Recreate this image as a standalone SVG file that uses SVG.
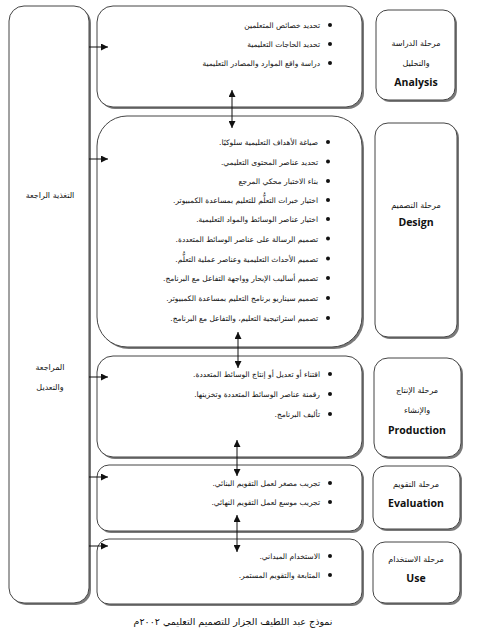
<svg xmlns="http://www.w3.org/2000/svg" width="487" height="640" viewBox="0 0 487 640">
<style>
.box{fill:#fff;stroke:#444;stroke-width:1}
.sh{fill:#7a7a7a;stroke:none}
.ar{font-family:"DejaVu Sans",sans-serif;font-size:7.5px;fill:#111;direction:rtl;text-anchor:start}
.arc{font-family:"DejaVu Sans",sans-serif;font-size:8px;fill:#111;text-anchor:middle}
.en{font-family:"Open Sans","Liberation Sans",sans-serif;font-size:10.5px;font-weight:bold;fill:#111;text-anchor:middle}
.bul{fill:#111}
.con{stroke:#111;stroke-width:1;fill:none}
</style>
<defs>
<marker id="ah" viewBox="0 0 10 10" refX="10" refY="5" markerWidth="7" markerHeight="7" orient="auto-start-reverse" markerUnits="userSpaceOnUse">
<path d="M0,0 L10,5 L0,10 z" fill="#111"/>
</marker>
</defs>
<rect width="487" height="640" fill="#fff"/>

<g id="feedback">
<rect class="sh" x="11" y="8" width="80" height="597" rx="15"/>
<rect class="box" x="9" y="6" width="80" height="597" rx="15"/>
<text class="arc" x="50" y="198">التغذية الراجعة</text>
<text class="arc" x="50" y="370">المراجعة</text>
<text class="arc" x="50" y="390">والتعديل</text>
</g>

<g id="analysis-content">
<rect class="sh" x="99" y="8" width="265" height="101" rx="16"/>
<rect class="box" x="97" y="6" width="265" height="101" rx="16"/>
<circle class="bul" cx="330" cy="25" r="2"/>
<circle class="bul" cx="330" cy="44" r="2"/>
<circle class="bul" cx="330" cy="63" r="2"/>
<text class="ar" x="320" y="28">تحديد خصائص المتعلمين</text>
<text class="ar" x="320" y="47">تحديد الحاجات التعليمية</text>
<text class="ar" x="320" y="66">دراسة واقع الموارد والمصادر التعليمية</text>
</g>
<g id="analysis-label">
<rect class="sh" x="378" y="12" width="79" height="90" rx="12"/>
<rect class="box" x="376" y="10" width="79" height="90" rx="12"/>
<text class="arc" x="416" y="46">مرحلة الدراسة</text>
<text class="arc" x="416" y="66">والتحليل</text>
<text class="en" x="416" y="86">Analysis</text>
</g>

<g id="design-content">
<rect class="sh" x="99" y="118" width="265" height="231" rx="30"/>
<rect class="box" x="97" y="116" width="265" height="231" rx="30"/>
<circle class="bul" cx="328" cy="142" r="2"/>
<circle class="bul" cx="328" cy="161.5" r="2"/>
<circle class="bul" cx="328" cy="181" r="2"/>
<circle class="bul" cx="328" cy="200" r="2"/>
<circle class="bul" cx="328" cy="219" r="2"/>
<circle class="bul" cx="328" cy="238.5" r="2"/>
<circle class="bul" cx="328" cy="258.5" r="2"/>
<circle class="bul" cx="328" cy="278" r="2"/>
<circle class="bul" cx="328" cy="298" r="2"/>
<circle class="bul" cx="328" cy="318" r="2"/>
<text class="ar" x="318" y="145">صياغة الأهداف التعليمية سلوكيًا.</text>
<text class="ar" x="318" y="164.5">تحديد عناصر المحتوى التعليمي.</text>
<text class="ar" x="318" y="184">بناء الاختبار محكي المرجع</text>
<text class="ar" x="318" y="203">اختيار خبرات التعلُّم للتعليم بمساعدة الكمبيوتر.</text>
<text class="ar" x="318" y="222">اختيار عناصر الوسائط والمواد التعليمية.</text>
<text class="ar" x="318" y="241.5">تصميم الرسالة على عناصر الوسائط المتعددة.</text>
<text class="ar" x="318" y="261.5">تصميم الأحداث التعليمية وعناصر عملية التعلُّم.</text>
<text class="ar" x="318" y="281">تصميم أساليب الإبحار وواجهة التفاعل مع البرنامج.</text>
<text class="ar" x="318" y="301">تصميم سيناريو برنامج التعليم بمساعدة الكمبيوتر.</text>
<text class="ar" x="318" y="321">تصميم استراتيجية التعليم، والتفاعل مع البرنامج.</text>
</g>
<g id="design-label">
<rect class="sh" x="377" y="125" width="82" height="214" rx="13"/>
<rect class="box" x="375" y="123" width="82" height="214" rx="13"/>
<text class="arc" x="416" y="208">مرحلة التصميم</text>
<text class="en" x="416" y="226">Design</text>
</g>

<g id="production-content">
<rect class="sh" x="99" y="358" width="265" height="101" rx="16"/>
<rect class="box" x="97" y="356" width="265" height="101" rx="16"/>
<circle class="bul" cx="330" cy="374" r="2"/>
<circle class="bul" cx="330" cy="394" r="2"/>
<circle class="bul" cx="330" cy="414" r="2"/>
<text class="ar" x="320" y="377">اقتناء أو تعديل أو إنتاج الوسائط المتعددة.</text>
<text class="ar" x="320" y="397">رقمنة عناصر الوسائط المتعددة وتخزينها.</text>
<text class="ar" x="320" y="417">تأليف البرنامج.</text>
</g>
<g id="production-label">
<rect class="sh" x="376" y="360" width="87" height="99" rx="14"/>
<rect class="box" x="374" y="358" width="87" height="99" rx="14"/>
<text class="arc" x="417" y="393">مرحلة الإنتاج</text>
<text class="arc" x="417" y="413">والإنشاء</text>
<text class="en" x="417" y="434">Production</text>
</g>

<g id="evaluation-content">
<rect class="sh" x="99" y="467" width="265" height="66" rx="12"/>
<rect class="box" x="97" y="465" width="265" height="66" rx="12"/>
<circle class="bul" cx="330" cy="483" r="2"/>
<circle class="bul" cx="330" cy="502" r="2"/>
<text class="ar" x="320" y="486">تجريب مصغر لعمل التقويم البنائي.</text>
<text class="ar" x="320" y="505">تجريب موسع لعمل التقويم النهائي.</text>
</g>
<g id="evaluation-label">
<rect class="sh" x="375" y="468" width="87" height="63" rx="12"/>
<rect class="box" x="373" y="466" width="87" height="63" rx="12"/>
<text class="arc" x="416" y="487">مرحلة التقويم</text>
<text class="en" x="416" y="507">Evaluation</text>
</g>

<g id="use-content">
<rect class="sh" x="99" y="541" width="265" height="65" rx="12"/>
<rect class="box" x="97" y="539" width="265" height="65" rx="12"/>
<circle class="bul" cx="330" cy="556" r="2"/>
<circle class="bul" cx="330" cy="575" r="2"/>
<text class="ar" x="320" y="559">الاستخدام الميداني.</text>
<text class="ar" x="320" y="578">المتابعة والتقويم المستمر.</text>
</g>
<g id="use-label">
<rect class="sh" x="375" y="544" width="87" height="61" rx="12"/>
<rect class="box" x="373" y="542" width="87" height="61" rx="12"/>
<text class="arc" x="416" y="562">مرحلة الاستخدام</text>
<text class="en" x="416" y="582">Use</text>
</g>

<g id="connectors">
<line class="con" x1="89" y1="47" x2="108" y2="47" marker-end="url(#ah)"/>
<line class="con" x1="89" y1="159" x2="108" y2="159" marker-end="url(#ah)"/>
<line class="con" x1="89" y1="377" x2="108" y2="377" marker-end="url(#ah)"/>
<line class="con" x1="89" y1="477" x2="108" y2="477" marker-end="url(#ah)"/>
<line class="con" x1="89" y1="546" x2="108" y2="546" marker-end="url(#ah)"/>
<line class="con" x1="232" y1="90" x2="232" y2="128" marker-start="url(#ah)" marker-end="url(#ah)"/>
<line class="con" x1="238" y1="332" x2="238" y2="368" marker-start="url(#ah)" marker-end="url(#ah)"/>
<line class="con" x1="237" y1="440" x2="237" y2="476" marker-start="url(#ah)" marker-end="url(#ah)"/>
<line class="con" x1="237" y1="515" x2="237" y2="552" marker-start="url(#ah)" marker-end="url(#ah)"/>
</g>

<text class="arc" x="233" y="625" style="font-size:9.5px">نموذج عبد اللطيف الجزار للتصميم التعليمي ٢٠٠٢م</text>
</svg>
